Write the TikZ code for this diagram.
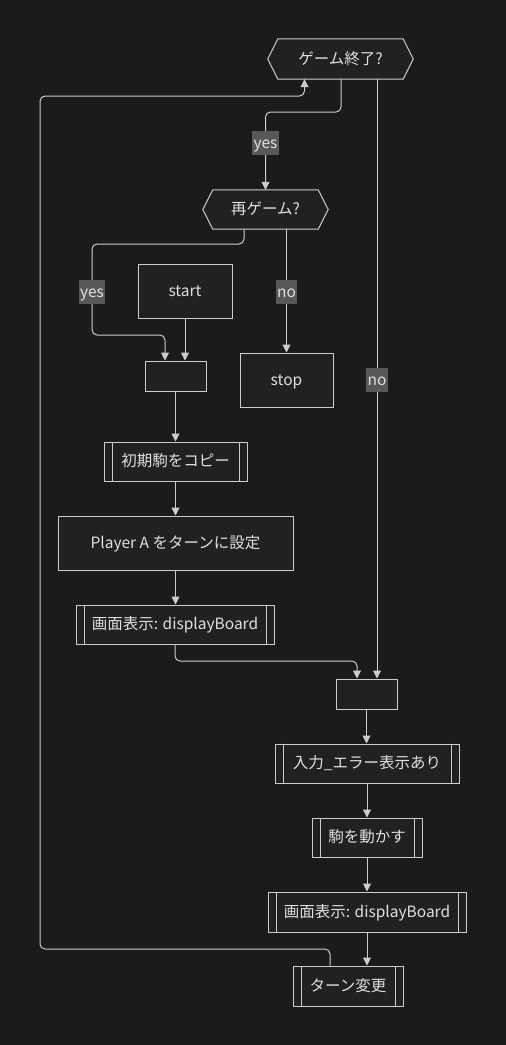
\documentclass[tikz,border=0pt]{standalone}
\usepackage{fontspec}
\setmainfont{Noto Sans CJK JP}
\usetikzlibrary{arrows.meta}
\definecolor{bgc}{RGB}{27,27,27}
\definecolor{nodefill}{RGB}{32,34,34}
\definecolor{strokec}{RGB}{204,204,204}
\definecolor{textc}{RGB}{224,224,224}
\definecolor{lblfill}{RGB}{88,88,88}
\newcommand{\subrlines}[1]{%
  \draw[strokec, line width=1pt] ([xshift=8.5pt]#1.north west) -- ([xshift=8.5pt]#1.south west)
    ([xshift=-8.5pt]#1.north east) -- ([xshift=-8.5pt]#1.south east);}
\newcommand{\hexout}[1]{%
  \draw[strokec, line width=1pt, fill=nodefill] ([xshift=10pt]#1.north west) -- ([xshift=-10pt]#1.north east) -- (#1.east)
    -- ([xshift=-10pt]#1.south east) -- ([xshift=10pt]#1.south west) -- (#1.west) -- cycle;}
\begin{document}
\begin{tikzpicture}[x=1pt,y=-1pt,
  font=\fontsize{15.5}{18}\selectfont,
  txt/.style={text=textc, text height=13pt, text depth=3pt},
  box/.style={txt, draw=strokec, line width=1pt, fill=nodefill, inner sep=0pt, anchor=center},
  hexbox/.style={inner sep=0pt, anchor=center},
  edge/.style={draw=strokec, line width=1pt, rounded corners=5pt, -{Triangle[length=8pt,width=8pt]}},
  lbl/.style={txt, fill=lblfill, inner xsep=1.5pt, inner ysep=4pt, anchor=center}]
\fill[bgc] (0,0) rectangle (506,1045);
\useasboundingbox (0,0) rectangle (506,1045);
% nodes
\node[hexbox, minimum width=145pt, minimum height=40pt] (g1) at (340.5,59) {};
\hexout{g1}
\node[txt, inner sep=0pt] (g1t) at (g1) {ゲーム終了?};
\node[hexbox, minimum width=125pt, minimum height=39pt] (r1) at (265.5,209.5) {};
\hexout{r1}
\node[txt, inner sep=0pt] (r1t) at (r1) {再ゲーム?};
\node[box, minimum width=94pt, minimum height=54pt] (st) at (185,291) {start};
\node[box, minimum width=61pt, minimum height=30pt] (m1) at (175.5,376) {};
\node[box, minimum width=93pt, minimum height=54pt] (stop) at (286.5,380) {stop};
\node[box, minimum width=143pt, minimum height=39pt] (init) at (175.5,461.5) {初期駒をコピー};
\subrlines{init}
\node[box, minimum width=235pt, minimum height=54pt] (pa) at (175.5,543) {Player A をターンに設定};
\node[box, minimum width=198pt, minimum height=39pt] (d1) at (175,624.5) {画面表示: displayBoard};
\subrlines{d1}
\node[box, minimum width=61pt, minimum height=30pt] (m2) at (366.5,694) {};
\node[box, minimum width=184pt, minimum height=39pt] (err) at (367,763.5) {入力\_エラー表示あり};
\subrlines{err}
\node[box, minimum width=110pt, minimum height=39pt] (mv) at (367,837.5) {駒を動かす};
\subrlines{mv}
\node[box, minimum width=198pt, minimum height=40pt] (d2) at (367,912) {画面表示: displayBoard};
\subrlines{d2}
\node[box, minimum width=110pt, minimum height=40pt] (tc) at (348,986) {ターン変更};
\subrlines{tc}
% edges
\draw[edge] ([xshift=0.5pt]g1.south) -- ([xshift=0.5pt]g1.south |- 0,112) -| (r1.north);
\node[lbl] (ly1) at (265.5,143) {yes};
\draw[edge] ([xshift=36.5pt]g1.south) -- ([xshift=10.5pt]m2.north);
\node[lbl] (ln1) at (377,380) {no};
\draw[edge] ([xshift=-21.5pt]r1.south) -- ([xshift=-21.5pt]r1.south |- 0,244) -| (92,300) |- ([xshift=-10.5pt]m1.north |- 0,335) -- ([xshift=-10.5pt]m1.north);
\node[lbl] (ly2) at (92,292) {yes};
\draw[edge] (r1.south -| stop) -- (stop.north);
\node[lbl] (ln2) at (286.5,292) {no};
\draw[edge] (st.south) -- (st.south |- m1.north);
\draw[edge] (m1.south) -- (init.north);
\draw[edge] (init.south) -- (pa.north);
\draw[edge] (pa.south) -- (pa.south |- d1.north);
\draw[edge] (d1.south) -- (d1.south |- 0,661) -| ([xshift=-9.5pt]m2.north);
\draw[edge] (m2.south) -- (m2.south |- err.north);
\draw[edge] (err.south) -- (mv.north);
\draw[edge] (mv.south) -- (d2.north);
\draw[edge] (d2.south) -- (d2.south |- tc.north);
\draw[edge] ([xshift=-18pt]tc.north) |- (40,949) -- (40,96) -| ([xshift=-36pt]g1.south);
\end{tikzpicture}
\end{document}
